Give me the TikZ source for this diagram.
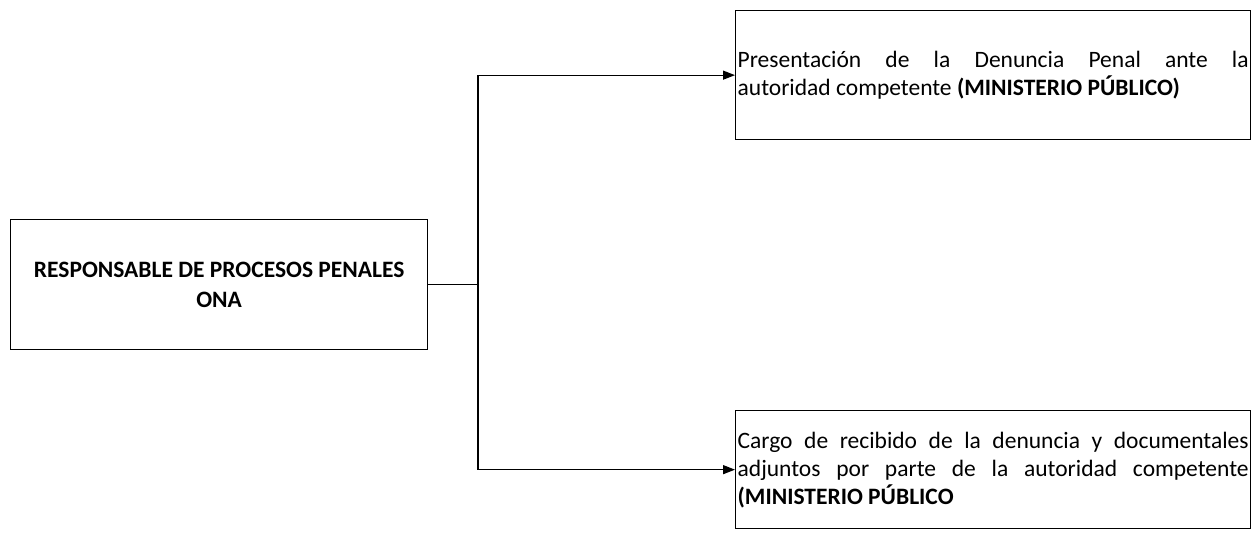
\documentclass[tikz,border=0pt]{standalone}
\usepackage{fontspec}
\setmainfont{Carlito}
\usetikzlibrary{arrows.meta}
\begin{document}
\begin{tikzpicture}[x=1pt,y=-1pt,
  box/.style={draw, line width=1.3pt, inner xsep=2pt, inner ysep=0pt,
    font=\fontsize{23.5}{28}\selectfont},
  conn/.style={line width=1.3pt},
  arr/.style={conn,-{Triangle[length=12pt,width=9pt]}}]
\useasboundingbox (0,0) rectangle (1256,544);
\node[box, anchor=north west, minimum width=417pt, minimum height=130pt,
  align=center, font=\fontsize{23.5}{30}\selectfont\bfseries] (src) at (10,219)
  {RESPONSABLE DE PROCESOS PENALES\\ONA};
\node[box, anchor=north west, text width=511pt, minimum height=129pt,
  align=justify] (t1) at (735,10)
  {Presentación de la Denuncia Penal ante la\linebreak autoridad competente \textbf{(MINISTERIO PÚBLICO)}};
\node[box, anchor=north west, text width=511pt, minimum height=118pt,
  align=justify] (t2) at (735,410)
  {Cargo de recibido de la denuncia y documentales\linebreak adjuntos por parte de la autoridad competente\linebreak \textbf{(MINISTERIO PÚBLICO}};
\coordinate (j) at (478,0 |- src.east);
\draw[conn] (src.east) -- (j);
\draw[arr] (j) |- (t1.west);
\draw[arr] (j) |- (t2.west);
\end{tikzpicture}
\end{document}
